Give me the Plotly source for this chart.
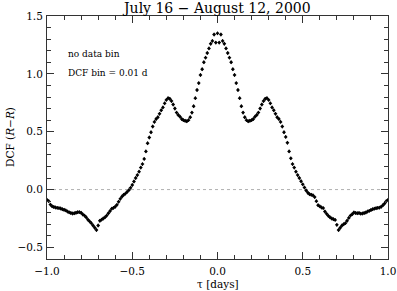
import plotly.graph_objects as go

# lag values tau (days), step 0.01 from -1.00 to 1.00
tau_neg = [round(-1.0 + 0.01 * i, 2) for i in range(100)]
tau_pos = [round(0.01 * i, 2) for i in range(101)]

dcf_neg = [
    -0.09, -0.10, -0.13, -0.145, -0.15, -0.155, -0.158, -0.16, -0.163, -0.17,
    -0.175, -0.18, -0.19, -0.197, -0.203, -0.207, -0.205, -0.20, -0.196, -0.195,
    -0.20, -0.215, -0.225, -0.24, -0.26, -0.275, -0.29, -0.31, -0.33, -0.35,
    -0.31, -0.27, -0.26, -0.25, -0.24, -0.225, -0.205, -0.185, -0.165, -0.158,
    -0.148, -0.132, -0.105, -0.08, -0.06, -0.045, -0.035, -0.02, -0.005, 0.015,
    0.04, 0.07, 0.10, 0.125, 0.155, 0.19, 0.22, 0.265, 0.33, 0.40,
    0.45, 0.495, 0.545, 0.585, 0.61, 0.625, 0.655, 0.685, 0.71, 0.745,
    0.775, 0.79, 0.785, 0.765, 0.735, 0.70, 0.665, 0.645, 0.63, 0.61,
    0.60, 0.595, 0.59, 0.60, 0.625, 0.665, 0.72, 0.79, 0.86, 0.92,
    0.99, 1.04, 1.10, 1.14, 1.18, 1.22, 1.26, 1.285, 1.34, 1.27,
]
dcf_pos = [
    1.35, 1.27, 1.34, 1.285, 1.26, 1.22, 1.18, 1.14, 1.10, 1.04,
    0.99, 0.92, 0.86, 0.79, 0.72, 0.665, 0.625, 0.60, 0.59, 0.595,
    0.60, 0.61, 0.63, 0.645, 0.665, 0.70, 0.735, 0.765, 0.785, 0.79,
    0.775, 0.745, 0.71, 0.685, 0.655, 0.625, 0.61, 0.585, 0.545, 0.495,
    0.455, 0.405, 0.33, 0.27, 0.22, 0.19, 0.155, 0.125, 0.10, 0.072,
    0.045, 0.018, -0.008, -0.028, -0.04, -0.045, -0.05, -0.065, -0.10, -0.135,
    -0.145, -0.155, -0.16, -0.19, -0.21, -0.227, -0.24, -0.25, -0.256, -0.262,
    -0.305, -0.35, -0.33, -0.31, -0.30, -0.29, -0.27, -0.245, -0.225, -0.213,
    -0.198, -0.202, -0.205, -0.203, -0.208, -0.207, -0.203, -0.198, -0.19, -0.184,
    -0.177, -0.17, -0.165, -0.161, -0.158, -0.156, -0.148, -0.135, -0.12, -0.10,
    -0.09,
]
err = 0.015

tau = tau_neg + tau_pos
dcf = dcf_neg + dcf_pos

title = "July 16 \u2212 August 12, 2000"
ylabel = "DCF (<i>R</i>\u2212<i>R</i>)"
xlabel = "\u03c4 [days]"
notes = ["no data bin", "DCF bin = 0.01 d"]

FONT = "DejaVu Serif"
W, H = 397, 291
ML, MR, MT, MB = 47, 9, 16, 32

fig = go.Figure()
fig.add_trace(go.Scatter(
    x=[-1.0, 1.0], y=[0, 0], mode="lines",
    line=dict(color="#b0b0b0", width=1, dash="dot"), hoverinfo="skip",
))
fig.add_trace(go.Scatter(
    x=tau, y=dcf, mode="markers",
    marker=dict(symbol="diamond", size=3, color="black"),
    error_y=dict(type="constant", value=err, color="black", thickness=0.8, width=0),
))

axis_common = dict(
    showgrid=False, zeroline=False, showline=True, linecolor="#333333", linewidth=1,
    mirror="ticks", ticks="inside", ticklen=7, tickcolor="#333333", tickwidth=1,
    tickformat=".1f", tickfont=dict(family=FONT, size=10.5, color="black"),
    automargin=False,
)

fig.update_layout(
    width=W, height=H,
    margin=dict(l=ML, r=MR, t=MT, b=MB, autoexpand=False),
    paper_bgcolor="white", plot_bgcolor="white",
    showlegend=False,
    xaxis=dict(range=[-1.0, 1.0], dtick=0.5, tick0=-1.0, ticklabelstandoff=2,
               minor=dict(dtick=0.1, ticklen=4, ticks="inside", tickcolor="#333333"),
               **axis_common),
    yaxis=dict(range=[-0.6, 1.5], dtick=0.5, tick0=-0.5, ticklabelstandoff=1,
               minor=dict(dtick=0.1, ticklen=4, ticks="inside", tickcolor="#333333"),
               **axis_common),
)

# title and axis titles placed in paper coordinates
pw = W - ML - MR
ph = H - MT - MB
fig.add_annotation(
    x=(216 - ML) / pw, y=(H - MB - 8) / ph, xref="paper", yref="paper",
    text=title, showarrow=False, xanchor="center", yanchor="middle",
    font=dict(family=FONT, size=14, color="black"),
)
fig.add_annotation(
    x=(218 - ML) / pw, y=(H - MB - 284) / ph, xref="paper", yref="paper",
    text=xlabel, showarrow=False, xanchor="center", yanchor="middle",
    font=dict(family=FONT, size=10.5, color="black"),
)
fig.add_annotation(
    x=(10 - ML) / pw, y=(H - MB - 137) / ph, xref="paper", yref="paper",
    text=ylabel, showarrow=False, xanchor="center", yanchor="middle", textangle=-90,
    font=dict(family=FONT, size=10.5, color="black"),
)

for i, t in enumerate(notes):
    fig.add_annotation(
        x=(66 - ML) / pw, y=(H - MB - [54, 73][i]) / ph, xref="paper", yref="paper",
        text=t, showarrow=False, xanchor="left", yanchor="middle",
        font=dict(family=FONT, size=9, color="black"),
    )

fig.write_html("out.html", config={"displayModeBar": False},
               post_script="document.body.style.margin='0px';")
